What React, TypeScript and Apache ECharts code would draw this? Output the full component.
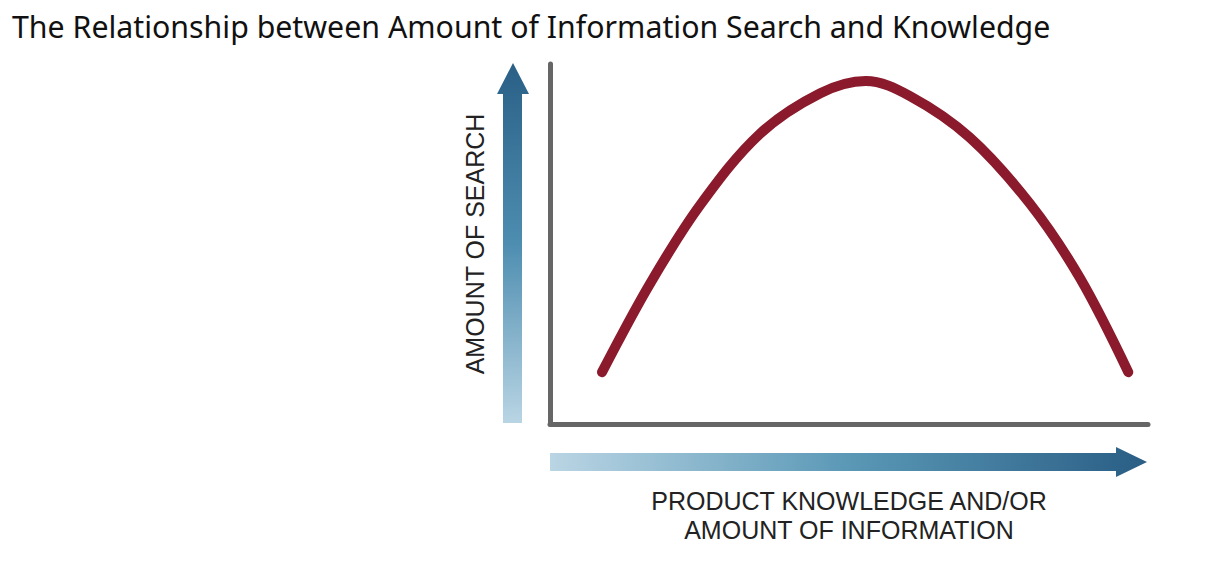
import React, { useEffect, useRef } from "react";
import * as echarts from "echarts";

const titleText = "The Relationship between Amount of Information Search and Knowledge";
const xAxisName = "PRODUCT KNOWLEDGE AND/OR\nAMOUNT OF INFORMATION";
const yAxisName = "AMOUNT OF SEARCH";

// Knowledge / information (x) vs amount of search (y) (0–100 scales)
const knowledge = [8.7, 16.7, 25.1, 35.1, 45.2, 52.8, 60.2, 70.2, 80.3, 88.6, 96.7];
const searchAmount = [14.4, 38.9, 60.8, 80.6, 91.9, 95.3, 91.1, 79.6, 61.1, 40.6, 14.4];

export default function App() {
  const ref = useRef<HTMLDivElement>(null);

  useEffect(() => {
    if (!ref.current) return;
    const chart = echarts.init(ref.current, null, { renderer: "svg" });

    const vGrad = new echarts.graphic.LinearGradient(0, 1, 0, 0, [
      { offset: 0, color: "#b9d5e4" },
      { offset: 0.5, color: "#4d8db0" },
      { offset: 1, color: "#2a5f86" },
    ]);
    const hGrad = new echarts.graphic.LinearGradient(0, 0, 1, 0, [
      { offset: 0, color: "#bad5e4" },
      { offset: 0.5, color: "#5a98b6" },
      { offset: 1, color: "#2a5e85" },
    ]);

    chart.setOption({
      animation: false,
      backgroundColor: "#ffffff",
      title: {
        text: titleText,
        left: 12,
        top: 11,
        padding: 0,
        textStyle: {
          fontFamily: "Noto Sans",
          fontSize: 30.3,
          fontWeight: "normal",
          color: "#111111",
        },
      },
      grid: { left: 550, right: 76, top: 64, bottom: 158 },
      xAxis: {
        type: "value",
        min: 0,
        max: 100,
        name: xAxisName,
        nameLocation: "middle",
        nameGap: 62,
        nameTextStyle: {
          fontFamily: "Liberation Sans",
          fontSize: 25,
          lineHeight: 29,
          color: "#222222",
          verticalAlign: "top",
          align: "center",
        },
        axisLine: { show: true, lineStyle: { color: "#666666", width: 5 } },
        axisTick: { show: false },
        axisLabel: { show: false },
        splitLine: { show: false },
      },
      yAxis: {
        type: "value",
        min: 0,
        max: 100,
        name: yAxisName,
        nameLocation: "middle",
        nameGap: 63,
        nameTextStyle: {
          fontFamily: "Liberation Sans",
          fontSize: 25,
          color: "#222222",
        },
        axisLine: { show: true, lineStyle: { color: "#666666", width: 5 } },
        axisTick: { show: false },
        axisLabel: { show: false },
        splitLine: { show: false },
      },
      graphic: [
        {
          type: "polygon",
          shape: {
            points: [
              [503, 423],
              [522, 423],
              [522, 94],
              [529, 94],
              [513, 63],
              [497, 94],
              [503, 94],
            ],
          },
          style: { fill: vGrad },
          z: 1,
        },
        {
          type: "polygon",
          shape: {
            points: [
              [550, 453],
              [1116, 453],
              [1116, 447],
              [1147, 462],
              [1116, 477],
              [1116, 471],
              [550, 471],
            ],
          },
          style: { fill: hGrad },
          z: 1,
        },
      ],
      series: [
        {
          type: "line",
          data: knowledge.map((x, i) => [x, searchAmount[i]]),
          smooth: 0.35,
          symbol: "none",
          lineStyle: { color: "#8a1a2c", width: 10, cap: "round", join: "round" },
          z: 5,
        },
      ],
    });

    return () => chart.dispose();
  }, []);

  return (
    <div
      ref={ref}
      style={{ position: "fixed", left: 0, top: 0, width: 1224, height: 582 }}
    />
  );
}
